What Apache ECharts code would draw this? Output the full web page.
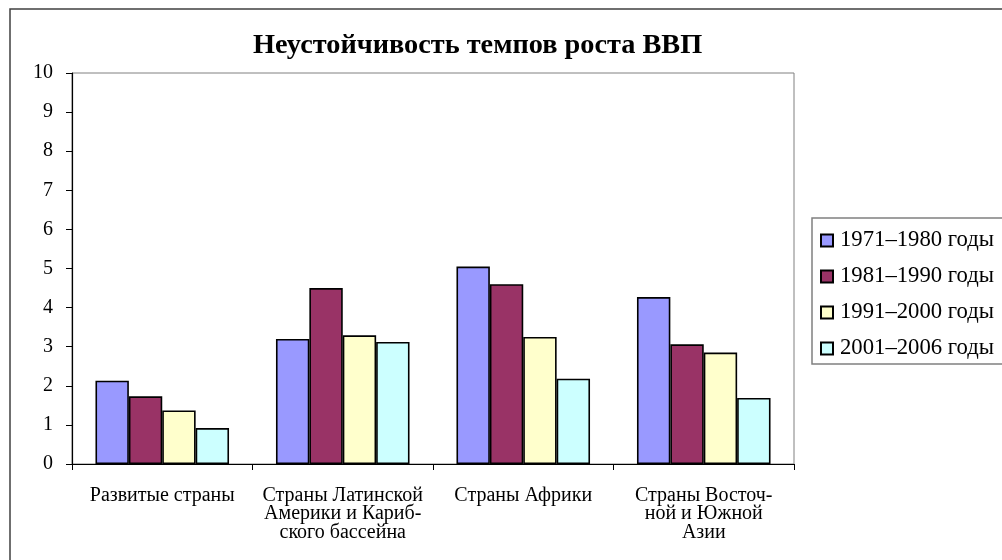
<!DOCTYPE html>
<html>
<head>
<meta charset="utf-8">
<script src="https://cdn.jsdelivr.net/npm/echarts@6/dist/echarts.min.js"></script>
<style>
html,body{margin:0;padding:0;background:#fff;}
#chart{width:1002px;height:560px;}
</style>
</head>
<body>
<div id="chart"></div>
<script>
const title = 'Неустойчивость темпов роста ВВП';
const categories = [
  'Развитые страны',
  'Страны Латинской\nАмерики и Кариб-\nского бассейна',
  'Страны Африки',
  'Страны Восточ-\nной и Южной\nАзии'
];
const seriesNames = ['1971–1980 годы', '1981–1990 годы', '1991–2000 годы', '2001–2006 годы'];
const s1971 = [2.13, 3.20, 5.05, 4.27];
const s1981 = [1.73, 4.50, 4.60, 3.06];
const s1991 = [1.37, 3.29, 3.25, 2.85];
const s2001 = [0.92, 3.12, 2.18, 1.69];
const yTicks = [0, 1, 2, 3, 4, 5, 6, 7, 8, 9, 10];
const colors = ['#9999FF', '#993366', '#FFFFCC', '#CCFFFF'];

const font = 'Liberation Serif';
const values = [s1971, s1981, s1991, s2001];

const chart = echarts.init(document.getElementById('chart'), null, {renderer: 'canvas'});
chart.setOption({
  animation: false,
  backgroundColor: '#ffffff',
  textStyle: {fontFamily: font, color: '#000'},
  title: {
    text: title,
    left: 253,
    top: 32,
    padding: 0,
    textStyle: {fontFamily: font, fontWeight: 'bold', fontSize: 28.3, color: '#000'}
  },
  graphic: [
    {type: 'rect', silent: true, z: -1,
     shape: {x: 10, y: 9, width: 1200, height: 800},
     style: {fill: 'none', stroke: '#404040', lineWidth: 1.5}},
    {type: 'rect', silent: true, z: -1,
     shape: {x: 812, y: 218, width: 400, height: 146},
     style: {fill: 'none', stroke: '#808080', lineWidth: 1.5}}
  ],
  legend: {
    orient: 'vertical',
    left: 820,
    top: 229,
    padding: 0,
    itemGap: 13,
    itemWidth: 12,
    itemHeight: 12,
    icon: 'rect',
    textStyle: {fontFamily: font, fontSize: 22.7, color: '#000', padding: [0, 0, 0, 2]},
    data: seriesNames
  },
  grid: {left: 72, top: 73, right: 208, bottom: 96, show: true, borderColor: '#808080', borderWidth: 1, containLabel: false},
  xAxis: {
    type: 'category',
    data: categories,
    axisLine: {lineStyle: {color: '#000', width: 1.2}},
    axisTick: {show: true, length: 6, lineStyle: {color: '#000'}},
    axisLabel: {fontFamily: font, fontSize: 20, lineHeight: 18.5, color: '#000', margin: 22, interval: 0, align: 'center'}
  },
  yAxis: {
    type: 'value',
    min: 0, max: 10, interval: 1,
    axisLine: {show: true, lineStyle: {color: '#000', width: 1.2}},
    axisTick: {show: true, length: 6, lineStyle: {color: '#000'}},
    splitLine: {show: false},
    axisLabel: {fontFamily: font, fontSize: 20, color: '#000', margin: 19,
      formatter: v => (yTicks.indexOf(v) >= 0 ? String(v) : '')}
  },
  series: seriesNames.map((n, i) => ({
    name: n,
    type: 'bar',
    data: values[i],
    barGap: '0%',
    barCategoryGap: '26%',
    itemStyle: {color: colors[i], borderColor: '#000', borderWidth: 1.6}
  }))
});
</script>
</body>
</html>
